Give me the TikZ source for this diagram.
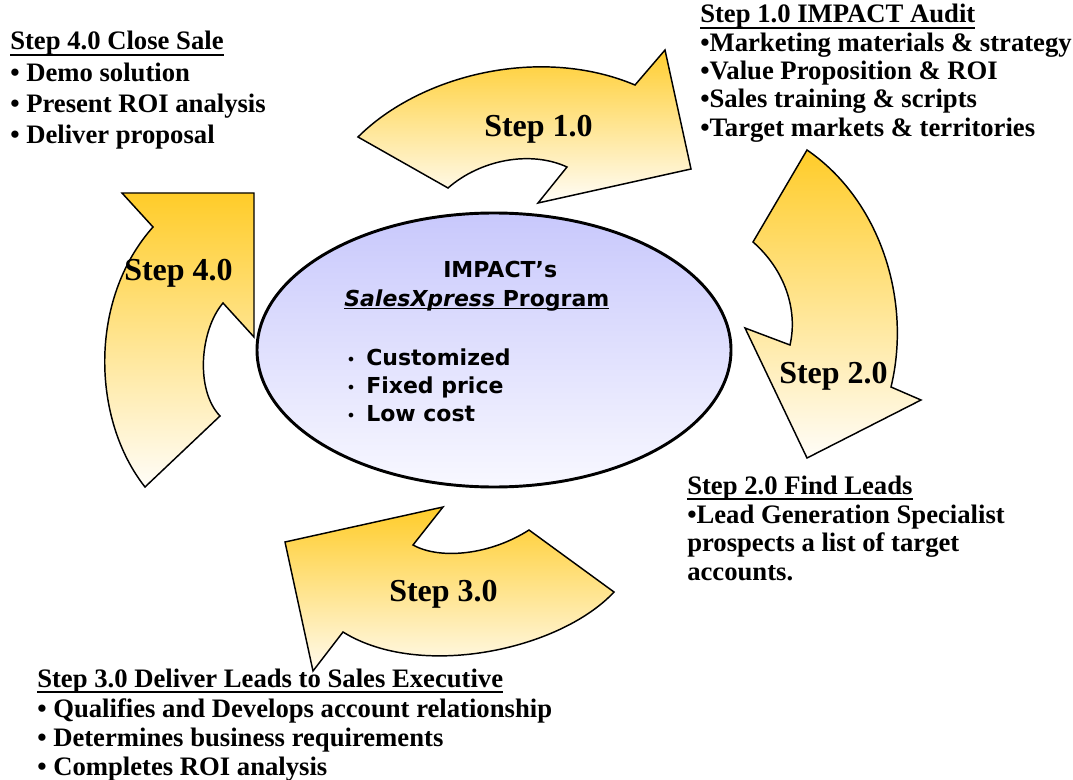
\documentclass[tikz,border=0pt]{standalone}
\usepackage{fontspec}
\setmainfont{Liberation Serif}
\newfontfamily\dejavu{DejaVu Sans}
\usetikzlibrary{shapes.geometric}
\definecolor{gold}{RGB}{255,204,41}
\definecolor{cream}{RGB}{255,253,248}
\definecolor{lavtop}{RGB}{200,200,252}
\definecolor{lavbot}{RGB}{248,248,255}
\newcommand\myul[1]{\setbox0=\hbox{#1}\rlap{\rule[-4.5pt]{\wd0}{1.5pt}}\box0}
\newcommand\myulthin[1]{\setbox0=\hbox{#1}\rlap{\rule[-2.6pt]{\wd0}{1.1pt}}\box0}
\begin{document}
\begin{tikzpicture}[x=0.75pt,y=-0.75pt,
  arrowshape/.style={draw=black, line width=1.1pt, line join=miter, top color=gold, bottom color=cream},
  txt/.style={anchor=base west, inner sep=0pt, font=\fontsize{20}{24}\selectfont\bfseries},
  lbl/.style={anchor=base west, inner sep=0pt, font=\fontsize{24}{28}\selectfont\bfseries},
  elltxt/.style={anchor=base west, inner sep=0pt, font=\dejavu\bfseries\fontsize{16.5}{20}\selectfont},
  dot/.style={anchor=base west, inner sep=0pt, font=\dejavu\fontsize{12}{12}\selectfont}]
\useasboundingbox (0,0) rectangle (1073,780);

% arrow 1 (top)
\path[arrowshape] (358,137) .. controls (420,75) and (540,45) .. (635,85) -- (665,50) -- (691,169) -- (538,203) -- (567,167) .. controls (530,150) and (480,160) .. (448,188) -- cycle;
% arrow 2 (right)
\path[arrowshape] (807,150) .. controls (880,200) and (912,300) .. (891,387) -- (921,400) -- (807,458) -- (745,328) -- (790,345) .. controls (798,310) and (785,270) .. (753,242) -- cycle;
% arrow 3 (bottom)
\path[arrowshape] (285,542) -- (443,507) -- (413,545) .. controls (440,560) and (490,555) .. (529,530) -- (614,592) .. controls (560,650) and (420,680) .. (343,632) -- (313,671) -- cycle;
% arrow 4 (left)
\path[arrowshape] (122,193) -- (254,193) -- (254,337) -- (223,303) .. controls (200,330) and (195,390) .. (220,416) -- (145,487) .. controls (92,420) and (88,300) .. (153,227) -- cycle;

% central ellipse
\node[draw=black, line width=2.2pt, ellipse, minimum width=355.5pt, minimum height=205.5pt, inner sep=0pt, top color=lavtop, bottom color=lavbot] (prog) at (494,350) {};
\node[elltxt] (e1) at (443,277) {IMPACT’s};
\node[elltxt] (e2) at (344,306) {\myulthin{\textit{SalesXpress} Program}};
\node[dot] (d1) at (346,365) {•};
\node[dot] (d2) at (346,393) {•};
\node[dot] (d3) at (346,421) {•};
\node[elltxt] (e3) at (366,365) {Customized};
\node[elltxt] (e4) at (366,393) {Fixed price};
\node[elltxt] (e5) at (366,421) {Low cost};

% step labels
\node[lbl] (s1) at (484,137) {Step 1.0};
\node[lbl] (s2) at (779,383) {Step 2.0};
\node[lbl] (s3) at (389,601) {Step 3.0};
\node[lbl] (s4) at (124,281) {Step 4.0};

% step 1 text
\node[txt] (t1h) at (700,23) {\myul{Step 1.0 IMPACT Audit}};
\node[txt] (t1a) at (700,52) {•Marketing materials \& strategy};
\node[txt] (t1b) at (700,80) {•Value Proposition \& ROI};
\node[txt] (t1c) at (700,108) {•Sales training \& scripts};
\node[txt] (t1d) at (700,137) {•Target markets \& territories};

% step 2 text
\node[txt] (t2h) at (687,494) {\myul{Step 2.0 Find Leads}};
\node[txt] (t2a) at (687,523) {•Lead Generation Specialist};
\node[txt] (t2b) at (687,551) {prospects a list of target};
\node[txt] (t2c) at (687,580) {accounts.};

% step 3 text
\node[txt] (t3h) at (37,687) {\myul{Step 3.0 Deliver Leads to Sales Executive}};
\node[txt] (t3a) at (37,717) {• Qualifies and Develops account relationship};
\node[txt] (t3b) at (37,746) {• Determines business requirements};
\node[txt] (t3c) at (37,775) {• Completes ROI analysis};

% step 4 text
\node[txt] (t4h) at (10,50) {\myul{Step 4.0 Close Sale}};
\node[txt] (t4a) at (10,82) {• Demo solution};
\node[txt] (t4b) at (10,113) {• Present ROI analysis};
\node[txt] (t4c) at (10,144) {• Deliver proposal};
\end{tikzpicture}
\end{document}
